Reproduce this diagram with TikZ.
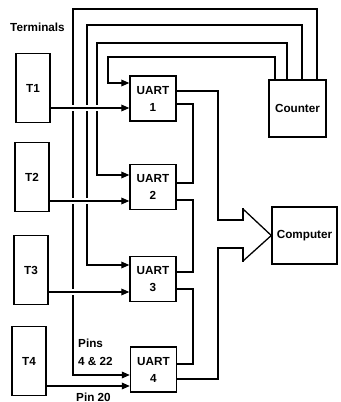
\documentclass[tikz,border=0pt]{standalone}
\usepackage{fontspec}
\setmainfont{Liberation Sans}
\usetikzlibrary{arrows.meta,calc}

\begin{document}
\begin{tikzpicture}[x=0.03cm, y=-0.03cm,
    term/.style={draw, rectangle, line width=1.2pt, minimum width=1.02cm, minimum height=2.07cm,
                 font=\bfseries},
    uart/.style={draw, rectangle, line width=1.2pt, minimum width=1.38cm, minimum height=1.35cm,
                 font=\fontsize{10}{14.5}\selectfont\bfseries, align=center},
    unit/.style={draw, rectangle, line width=1.2pt, minimum height=1.71cm, font=\bfseries},
    wire/.style={line width=1.1pt},
    sig/.style={wire, -{Triangle[length=2.4mm, width=2mm]}},
    cross/.style={preaction={draw=white, line width=5pt, -, shorten <=3pt, shorten >=4pt}},
    lbl/.style={font=\fontsize{10}{15}\selectfont\bfseries, inner sep=0pt, align=left}
]
\useasboundingbox (0,0) rectangle (340,402);

% --- terminals ---
\node[term] (t1) at (33,88)  {T1};
\node[term] (t2) at (32,177) {T2};
\node[term] (t3) at (31,270) {T3};
\node[term] (t4) at (29,361) {T4};

% --- uarts ---
\node[uart] (u1) at (153,98.5)  {UART\\1};
\node[uart] (u2) at (153,187)   {UART\\2};
\node[uart] (u3) at (153,279)   {UART\\3};
\node[uart] (u4) at (153.5,369.5) {UART\\4};

% --- counter and computer ---
\node[unit, minimum width=1.71cm] (ctr) at (297.5,108.5) {Counter};
\node[unit, minimum width=1.95cm] (cpu) at (304.5,235.5) {Computer};

% --- labels ---
\node[lbl, anchor=west] (termlbl) at (10,27) {Terminals};
\node[lbl, anchor=north west] (pins) at (78,339) {Pins\\4 \& 22};
\node[lbl, anchor=west] (pin20) at (76,397) {Pin 20};

% --- rails from the counter ---
\draw[sig] (ctr.north -| 317,0) |- (73,9)  |- (u4.west |- 0,375);
\draw[sig] (ctr.north -| 302,0) |- (87,25) |- (u3.west |- 0,265);
\draw[sig] (ctr.north -| 287,0) |- (97,43) |- (u2.west |- 0,175);
\draw[sig] (ctr.north -| 275,0) |- (108,57) |- (u1.west |- 0,83);

% --- terminal lines ---
\draw[sig, cross] (t1.east |- 0,108) -- (u1.west |- 0,108);
\draw[sig, cross] (t2.east |- 0,201) -- (u2.west |- 0,201);
\draw[sig, cross] (t3.east |- 0,292) -- (u3.west |- 0,292);
\draw[sig] (t4.east |- 0,386) -- (u4.west |- 0,386);

% --- uart bus ---
\draw[wire] (u1.east |- 0,104) -| (193,183) -- (u2.east |- 0,183);
\draw[wire] (u2.east |- 0,200) -| (193,272) -- (u3.east |- 0,272);
\draw[wire] (u3.east |- 0,289) -| (193,364) -- (u4.east |- 0,364);

% --- big arrow to computer ---
\draw[wire, line cap=rect] (u1.east |- 0,91) -| (218,220) -- (243,220) -- (243,209);
\draw[wire, line cap=rect] (243,261) -- (243,248) -- (218,248) |- (u4.east |- 0,379);
\draw[wire, line join=miter] (243,209) -- (cpu.west) -- (243,261);

\end{tikzpicture}
\end{document}
